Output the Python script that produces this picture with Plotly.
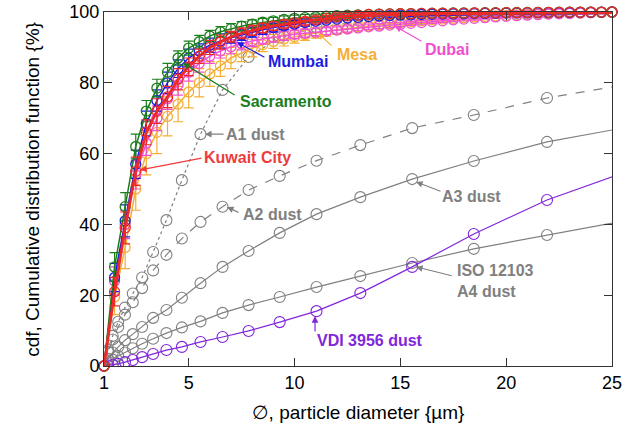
import plotly.graph_objects as go

# ---- measured city dust size distributions (0.5 µm channels) ----
X_CITY = [1.0, 1.5, 2.0, 2.5, 3.0, 3.5, 4.0, 4.5, 5.0, 5.5, 6.0, 6.5, 7.0, 7.5, 8.0, 8.5,
          9.0, 9.5, 10.0, 10.5, 11.0, 11.5, 12.0, 12.5, 13.0, 13.5, 14.0, 14.5, 15.0, 15.5,
          16.0, 16.5, 17.0, 17.5, 18.0, 18.5, 19.0, 19.5, 20.0, 20.5, 21.0, 21.5, 22.0, 22.5,
          23.0, 23.5, 24.0, 24.5, 25.0]

SACRAMENTO = [0, 28, 45, 62, 72, 78.5, 83, 87, 89.8, 91.6, 93.2, 94.4, 95.3, 96.0, 96.6, 97.1,
              97.5, 97.9, 98.2, 98.4, 98.6, 98.8, 99.0, 99.1, 99.2, 99.3, 99.4, 99.45, 99.5, 99.55,
              99.6, 99.65, 99.7, 99.72, 99.75, 99.78, 99.8, 99.82, 99.84, 99.86, 99.88, 99.9, 99.92, 99.94,
              99.95, 99.97, 99.98, 99.99, 100]
SACRAMENTO_ERR = [0, 4, 4, 3.5, 3, 2.5, 2.5, 2, 2, 1.8, 1.6, 1.5, 1.4, 1.3, 1.2, 1.1,
                  1.0, 1.0, 0.9, 0.9, 0.8, 0.8, 0.7, 0.7, 0.6, 0.6, 0.6, 0.5, 0.5, 0.5,
                  0.4, 0.4, 0.4, 0.4, 0.4, 0.4, 0.4, 0.4, 0.4, 0.4, 0.4, 0.4, 0.4, 0.4,
                  0.4, 0.4, 0.4, 0.4, 0.4]

MUMBAI = [0, 25, 41, 57, 68.5, 75, 80, 84, 87, 89, 90.6, 91.8, 92.7, 93.5, 94.3, 95.0,
          95.6, 96.1, 96.6, 97.0, 97.4, 97.7, 98.0, 98.3, 98.5, 98.7, 98.9, 99.0, 99.1, 99.2,
          99.3, 99.35, 99.4, 99.45, 99.5, 99.55, 99.6, 99.65, 99.7, 99.72, 99.75, 99.78, 99.8, 99.83,
          99.86, 99.9, 99.93, 99.96, 100]
MUMBAI_ERR = [0, 4, 4.5, 4, 3.5, 3, 3, 2.5, 2.5, 2, 2, 2, 1.5, 1.5, 1.4, 1.3,
              1.2, 1.1, 1.0, 1.0, 0.9, 0.8, 0.8, 0.7, 0.7, 0.6, 0.6, 0.5, 0.5, 0.5,
              0.5, 0.4, 0.4, 0.4, 0.4, 0.4, 0.4, 0.4, 0.4, 0.4, 0.4, 0.4, 0.4, 0.4,
              0.4, 0.4, 0.4, 0.4, 0.4]

KUWAIT = [0, 21, 39, 55, 66, 72, 76, 81, 84.5, 87.5, 90, 91.5, 93, 94, 94.8, 95.5,
          96.1, 96.6, 97.0, 97.4, 97.8, 98.2, 98.6, 98.9, 99.1, 99.3, 99.4, 99.45, 99.5, 99.55,
          99.6, 99.62, 99.65, 99.68, 99.7, 99.72, 99.75, 99.78, 99.8, 99.82, 99.85, 99.87, 99.9, 99.92,
          99.94, 99.96, 99.97, 99.99, 100]
KUWAIT_ERR = [0, 4, 4.5, 4, 3.5, 3.5, 3, 3, 2.5, 2, 2, 2, 1.5, 1.5, 1.4, 1.3,
              1.2, 1.1, 1.0, 1.0, 0.9, 0.8, 0.8, 0.7, 0.7, 0.6, 0.6, 0.5, 0.5, 0.5,
              0.5, 0.4, 0.4, 0.4, 0.4, 0.4, 0.4, 0.4, 0.4, 0.4, 0.4, 0.4, 0.4, 0.4,
              0.4, 0.4, 0.4, 0.4, 0.4]

DUBAI = [0, 24, 40, 54, 63, 70, 75.5, 79.5, 83, 85.5, 87.5, 89, 90.2, 91.1, 91.8, 92.4,
         92.9, 93.3, 93.7, 94.0, 94.3, 94.6, 94.9, 95.2, 95.5, 95.8, 96.0, 96.3, 96.5, 96.8,
         97.0, 97.3, 97.5, 97.8, 98.0, 98.2, 98.4, 98.6, 98.8, 98.95, 99.1, 99.25, 99.4, 99.5,
         99.6, 99.7, 99.8, 99.9, 100]
DUBAI_ERR = [0, 4, 4, 4, 3.5, 3.5, 3, 3, 2.5, 2.5, 2, 2, 2, 1.8, 1.6, 1.5,
             1.4, 1.3, 1.2, 1.1, 1.0, 1.0, 0.9, 0.9, 0.8, 0.8, 0.7, 0.7, 0.6, 0.6,
             0.6, 0.5, 0.5, 0.5, 0.5, 0.5, 0.4, 0.4, 0.4, 0.4, 0.4, 0.4, 0.4, 0.4,
             0.4, 0.4, 0.4, 0.4, 0.4]

MESA = [0, 19.5, 33.5, 50, 60, 66, 70.5, 74, 77.4, 80, 82.5, 84.8, 87, 88.5, 89.8, 90.8,
        91.7, 92.4, 93.0, 93.6, 94.1, 94.6, 95.0, 95.4, 95.8, 96.1, 96.4, 96.7, 97.0, 97.3,
        97.55, 97.8, 98.0, 98.2, 98.4, 98.6, 98.75, 98.9, 99.05, 99.2, 99.3, 99.4, 99.5, 99.6,
        99.7, 99.75, 99.8, 99.85, 99.9]
MESA_ERR = [0, 5, 6, 6, 6, 6, 5.5, 5, 4.5, 4, 3.5, 3, 3, 2.5, 2.5, 2,
            2, 2, 1.8, 1.6, 1.5, 1.4, 1.3, 1.2, 1.1, 1.0, 1.0, 0.9, 0.9, 0.8,
            0.8, 0.7, 0.7, 0.6, 0.6, 0.6, 0.5, 0.5, 0.5, 0.5, 0.5, 0.4, 0.4, 0.4,
            0.4, 0.4, 0.4, 0.4, 0.4]

# ---- reference test dusts (logarithmic size channels) ----
X_TEST = [1.00, 1.19, 1.41, 1.67, 1.99, 2.36, 2.80, 3.32, 3.95, 4.68,
          5.56, 6.60, 7.83, 9.30, 11.04, 13.11, 15.56, 18.47, 21.93, 26.03]

A1_DUST = [0, 4.5, 8.5, 12.5, 16.5, 20.5, 25.0, 32.2, 41.2, 52.5,
           65.5, 78.0, 87.3, 92.8, 95.6, 97.4, 98.6, 99.3, 99.7, 100]
A2_DUST = [0, 4.0, 7.5, 11.0, 14.5, 18.0, 22.0, 27.0, 31.4, 36.0,
           40.7, 45.0, 49.7, 53.7, 58.0, 62.4, 67.2, 70.9, 75.7, 79.9]
A3_DUST = [0, 2.0, 3.8, 5.4, 7.3, 9.0, 11.0, 13.6, 15.8, 19.3,
           23.4, 28.0, 32.5, 37.6, 42.9, 47.7, 52.8, 57.9, 63.3, 67.8]
A4_DUST = [0, 0.8, 1.8, 2.8, 3.8, 5.0, 6.3, 7.7, 9.3, 10.9,
           12.6, 15.0, 17.2, 19.5, 22.3, 25.4, 29.1, 33.1, 37.0, 41.5]
VDI_DUST = [0, 0.15, 0.35, 0.6, 1.1, 1.7, 2.5, 3.4, 4.5, 5.4,
            6.8, 8.2, 9.9, 12.4, 15.5, 20.6, 28.0, 37.3, 46.9, 55.6]

X_TICKS = [1, 5, 10, 15, 20, 25]
Y_TICKS = [0, 20, 40, 60, 80, 100]

GREEN = "#1b7d1b"
BLUE = "#1c1ce4"
RED = "#ec2a2a"
ORANGE = "#f5ae36"
PINK = "#ee50d0"
GRAY = "#808080"
PURPLE = "#8126da"

FONT = "Liberation Sans, Arial, sans-serif"

fig = go.Figure()

# test dusts
for ys, dash, col in [(A1_DUST, "dot", GRAY), (A2_DUST, "dash", GRAY),
                      (A3_DUST, "solid", GRAY), (A4_DUST, "solid", GRAY),
                      (VDI_DUST, "solid", PURPLE)]:
    fig.add_trace(go.Scatter(
        x=X_TEST, y=ys, mode="lines+markers",
        line=dict(color=col, width=1.2, dash=dash),
        marker=dict(symbol="circle-open", size=11, color=col, line=dict(width=1.1)),
        showlegend=False, hoverinfo="skip",
    ))

# city dusts with error bars
for ys, err, col, lw in [(MESA, MESA_ERR, ORANGE, 1.5), (DUBAI, DUBAI_ERR, PINK, 1.5),
                         (MUMBAI, MUMBAI_ERR, BLUE, 1.5), (SACRAMENTO, SACRAMENTO_ERR, GREEN, 1.5),
                         (KUWAIT, KUWAIT_ERR, RED, 2.8)]:
    fig.add_trace(go.Scatter(
        x=X_CITY, y=ys, mode="lines+markers",
        line=dict(color=col, width=lw),
        marker=dict(symbol="circle-open", size=10, color=col, line=dict(width=1.3)),
        error_y=dict(type="data", array=err, visible=True, color=col, thickness=1.2, width=5),
        cliponaxis=False, showlegend=False, hoverinfo="skip",
    ))

# labels with pointer arrows: (text, text x, text y, tail x, tail y, tip x, tip y, colour)
LABELS = [
    ("Sacramento", 9.6, 74.6, 7.24, 76.3, 4.73, 85.6, GREEN),
    ("Mumbai", 10.16, 85.9, 8.65, 87.0, 7.28, 91.5, BLUE),
    ("Mesa", 12.95, 88.1, 11.82, 90.1, 11.11, 94.1, ORANGE),
    ("Dubai", 17.2, 89.5, 16.07, 91.5, 14.75, 96.0, PINK),
    ("A1 dust", 8.18, 65.3, 6.72, 65.5, 5.77, 65.5, GRAY),
    ("Kuwait City", 7.8, 59.0, 5.68, 58.8, 2.70, 55.4, "#ee3c3c"),
    ("A2 dust", 8.94, 42.7, 7.42, 43.2, 6.81, 44.9, GRAY),
    ("A3 dust", 18.38, 48.0, 16.97, 49.2, 15.74, 52.0, GRAY),
    ("VDI 3956 dust", 13.56, 7.1, 10.97, 9.3, 10.97, 14.1, PURPLE),
]
for text, tx, ty, ax, ay, x, y, col in LABELS:
    fig.add_annotation(x=x, y=y, ax=ax, ay=ay, axref="x", ayref="y", text="",
                       showarrow=True, arrowhead=2, arrowsize=1.1, arrowwidth=1.2,
                       arrowcolor=col)
    fig.add_annotation(x=tx, y=ty, text=f"<b>{text}</b>", showarrow=False,
                       font=dict(family=FONT, size=16, color=col))

fig.add_annotation(x=15.74, y=28.0, ax=17.5, ay=25.4, axref="x", ayref="y", text="",
                   showarrow=True, arrowhead=2, arrowsize=1.1, arrowwidth=1.2, arrowcolor=GRAY)
fig.add_annotation(x=17.6, y=24.0, text="<b>ISO 12103<br>A4 dust</b>", showarrow=False,
                   xanchor="left", align="left",
                   font=dict(family=FONT, size=16, color=GRAY))

# vertical axis title, placed as rotated text left of the tick labels
fig.add_annotation(xref="paper", yref="paper", x=-0.142, y=0.5, xanchor="center",
                   yanchor="middle", textangle=-90, showarrow=False,
                   text="cdf, Cumulative distribution function {%}",
                   font=dict(family=FONT, size=19, color="black"))

axis_common = dict(
    showline=True, linecolor="#333333", linewidth=1, mirror="ticks",
    ticks="inside", ticklen=8, tickwidth=1, tickcolor="#333333",
    showgrid=False, zeroline=False, automargin=False,
    tickfont=dict(family=FONT, size=18, color="black"),
)

fig.update_layout(
    width=625, height=439,
    margin=dict(l=104, r=13, t=12, b=73),
    paper_bgcolor="white", plot_bgcolor="white",
    font=dict(family=FONT),
    xaxis=dict(range=[1, 25], tickvals=X_TICKS, **axis_common,
               title=dict(text="∅, particle diameter {µm}",
                          font=dict(family=FONT, size=19, color="black"), standoff=14)),
    yaxis=dict(range=[0, 100], tickvals=Y_TICKS, **axis_common),
)

fig.write_html("out.html")
